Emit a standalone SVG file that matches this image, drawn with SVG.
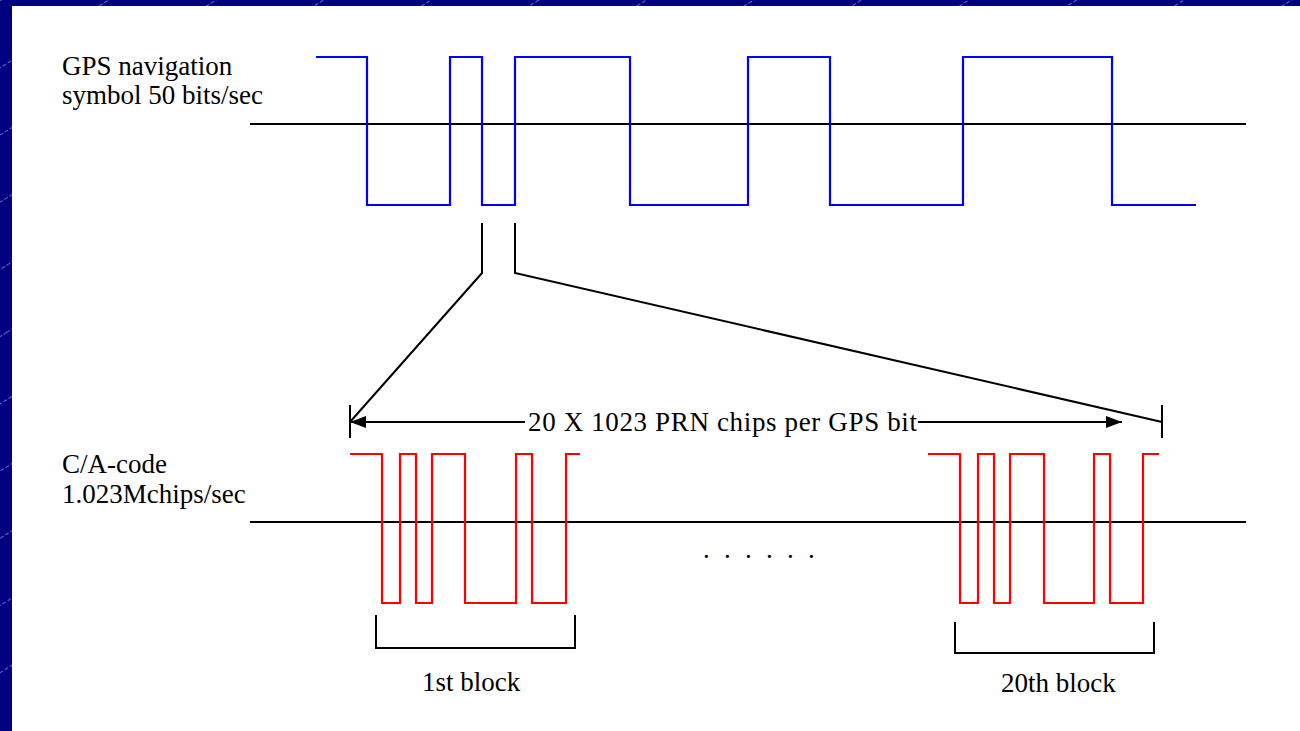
<svg xmlns="http://www.w3.org/2000/svg" width="1300" height="731" viewBox="0 0 1300 731">
  <defs>
    <pattern id="diag" width="57" height="57" patternUnits="userSpaceOnUse" patternTransform="rotate(-32)">
      <rect width="57" height="57" fill="#000080"/>
      <line x1="0" y1="0.5" x2="57" y2="0.5" stroke="#6a6ac8" stroke-width="1" stroke-dasharray="4 2"/>
    </pattern>
    <marker id="arr" viewBox="0 0 16 12" refX="16" refY="6" markerWidth="16" markerHeight="12" markerUnits="userSpaceOnUse" orient="auto-start-reverse">
      <path d="M0,0 L16,6 L0,12 Z" fill="#000"/>
    </marker>
    <style>
      .t { font-family: "Liberation Serif", "Times New Roman", serif; font-size: 27px; fill: #000; }
      .ax { stroke: #000; stroke-width: 2; fill: none; }
      .ln { stroke: #000; stroke-width: 2; fill: none; }
      .blue { stroke: #0000ff; stroke-width: 2.2; fill: none; }
      .red { stroke: #ff0000; stroke-width: 2.2; fill: none; }
    </style>
  </defs>

  <rect x="0" y="0" width="1300" height="731" fill="url(#diag)"/>
  <rect x="12" y="6" width="1288" height="725" fill="#ffffff"/>

  <g id="label-gps">
    <text class="t" x="62" y="75">GPS navigation</text>
    <text class="t" x="62" y="104">symbol 50 bits/sec</text>
  </g>
  <g id="label-ca">
    <text class="t" x="62" y="473">C/A-code</text>
    <text class="t" x="62" y="503">1.023Mchips/sec</text>
  </g>

  <g id="axes">
    <line class="ax" x1="250" y1="124" x2="1246" y2="124"/>
    <line class="ax" x1="250" y1="522" x2="1246" y2="522"/>
  </g>

  <g id="nav-signal">
    <polyline class="blue" points="316,57 367,57 367,205 450,205 450,57 482,57 482,205 515,205 515,57 630,57 630,205 748,205 748,57 830,57 830,205 963,205 963,57 1112,57 1112,205 1196,205"/>
  </g>

  <g id="ca-block-1">
    <polyline class="red" points="350,454 382,454 382,603 400,603 400,454 416,454 416,603 432,603 432,454 465,454 465,603 516,603 516,454 532,454 532,603 566,603 566,454 580,454"/>
  </g>
  <g id="ca-block-20">
    <polyline class="red" points="928,454 960,454 960,603 978,603 978,454 994,454 994,603 1010,603 1010,454 1044,454 1044,603 1094,603 1094,454 1110,454 1110,603 1143,603 1143,454 1159,454"/>
  </g>

  <g id="connectors">
    <polyline class="ln" points="482,223 482,273 350,422"/>
    <polyline class="ln" points="515,223 515,273 1162,422"/>
    <line class="ln" x1="350" y1="405" x2="350" y2="438"/>
    <line class="ln" x1="1162" y1="405" x2="1162" y2="438"/>
    <line class="ln" x1="525" y1="422" x2="350" y2="422" marker-end="url(#arr)"/>
    <line class="ln" x1="918" y1="422" x2="1122" y2="422" marker-end="url(#arr)"/>
  </g>

  <g id="dim-label">
    <text class="t" x="528" y="431" textLength="389" lengthAdjust="spacing">20 X 1023 PRN chips per GPS bit</text>
  </g>

  <g id="ellipsis">
    <text class="t" x="703 724 745 766 787 808" y="558">......</text>
  </g>

  <g id="bracket-1">
    <polyline class="ln" points="376,615 376,648 575,648 575,615"/>
    <text class="t" x="422" y="691">1st block</text>
  </g>
  <g id="bracket-20">
    <polyline class="ln" points="955,622 955,653 1154,653 1154,622"/>
    <text class="t" x="1001" y="692">20th block</text>
  </g>
</svg>
